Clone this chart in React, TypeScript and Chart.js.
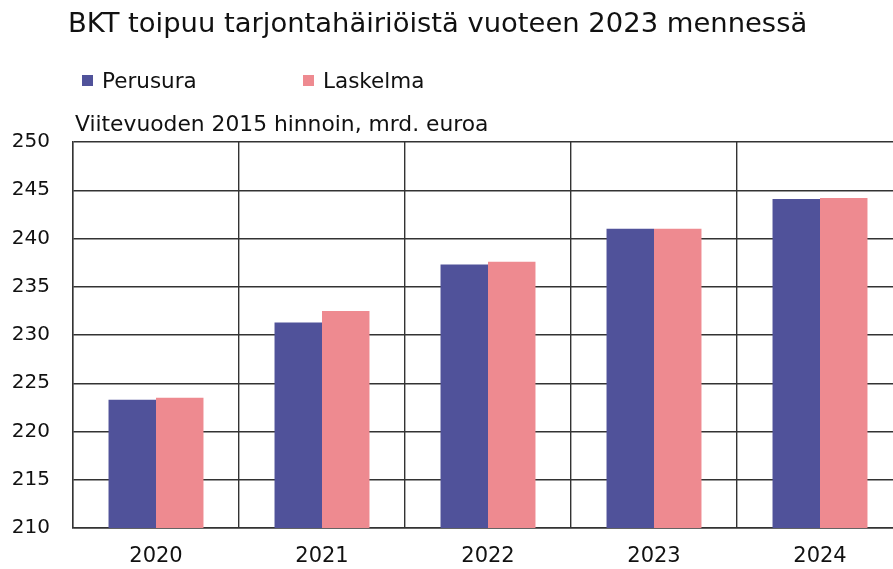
import React, { useEffect, useRef } from "react";
import { Chart, registerables } from "chart.js";

Chart.register(...registerables);

const TITLE = "BKT toipuu tarjontahäiriöistä vuoteen 2023 mennessä";
const SUBTITLE = "Viitevuoden 2015 hinnoin, mrd. euroa";
const categories = ["2020", "2021", "2022", "2023", "2024"];
const seriesNames = ["Perusura", "Laskelma"];
const perusura = [223.3, 231.3, 237.3, 241.0, 244.1];
const laskelma = [223.5, 232.5, 237.6, 241.0, 244.2];
const seriesColors = ["#50529A", "#EE8A90"];
const yMin = 210;
const yMax = 250;
const yStep = 5;

const FONT = "'DejaVu Sans', 'Liberation Sans', Arial, sans-serif";

const headerPlugin = {
  id: "header",
  afterDraw(chart: any) {
    const ctx = chart.ctx as CanvasRenderingContext2D;
    ctx.save();
    ctx.fillStyle = "#111";
    ctx.textBaseline = "alphabetic";
    ctx.textAlign = "left";
    ctx.font = `27.4px ${FONT}`;
    ctx.fillText(TITLE, 68, 32);

    ctx.font = `21.5px ${FONT}`;
    const legendX = [82, 303];
    chart.data.datasets.forEach((ds: any, i: number) => {
      const x = legendX[i];
      ctx.fillStyle = ds.backgroundColor;
      ctx.fillRect(x, 75, 11, 11);
      ctx.fillStyle = "#111";
      ctx.fillText(ds.label, x + 20, 88);
    });

    ctx.font = `21.8px ${FONT}`;
    ctx.fillText(SUBTITLE, 75, 131);
    ctx.restore();
  },
};

export default function App() {
  const ref = useRef<HTMLCanvasElement>(null);
  useEffect(() => {
    const chart = new Chart(ref.current!, {
      type: "bar",
      data: {
        labels: categories,
        datasets: [
          {
            label: seriesNames[0],
            data: perusura,
            backgroundColor: seriesColors[0],
            borderWidth: 0,
            categoryPercentage: 0.572,
            barPercentage: 1,
          },
          {
            label: seriesNames[1],
            data: laskelma,
            backgroundColor: seriesColors[1],
            borderWidth: 0,
            categoryPercentage: 0.572,
            barPercentage: 1,
          },
        ],
      },
      options: {
        responsive: false,
        animation: false,
        devicePixelRatio: 1,
        layout: { padding: { top: 142, left: 12, right: 2, bottom: 0 } },
        plugins: {
          legend: { display: false },
          title: { display: false },
          tooltip: { enabled: false },
        },
        scales: {
          x: {
            afterFit: (scale: any) => {
              scale.height = 41;
            },
            grid: {
              display: true,
              offset: true,
              color: "#333",
              lineWidth: 1.4,
              drawTicks: false,
            },
            border: { display: true, color: "#333", width: 1.4 },
            ticks: {
              color: "#111",
              font: { family: FONT, size: 21 },
              padding: 16,
            },
          },
          y: {
            min: yMin,
            max: yMax,
            afterFit: (scale: any) => {
              scale.width = 61;
            },
            grid: { color: "#333", lineWidth: 1.4, drawTicks: false },
            border: { display: true, color: "#333", width: 1.4 },
            ticks: {
              stepSize: yStep,
              color: "#111",
              font: { family: FONT, size: 20 },
              padding: 23,
            },
          },
        },
      },
      plugins: [headerPlugin],
    });
    return () => chart.destroy();
  }, []);

  return (
    <div
      style={{
        position: "fixed",
        left: 0,
        top: 0,
        width: 893,
        height: 569,
        overflow: "hidden",
        background: "#fff",
      }}
    >
      <canvas ref={ref} width={905} height={569} style={{ display: "block" }} />
    </div>
  );
}
